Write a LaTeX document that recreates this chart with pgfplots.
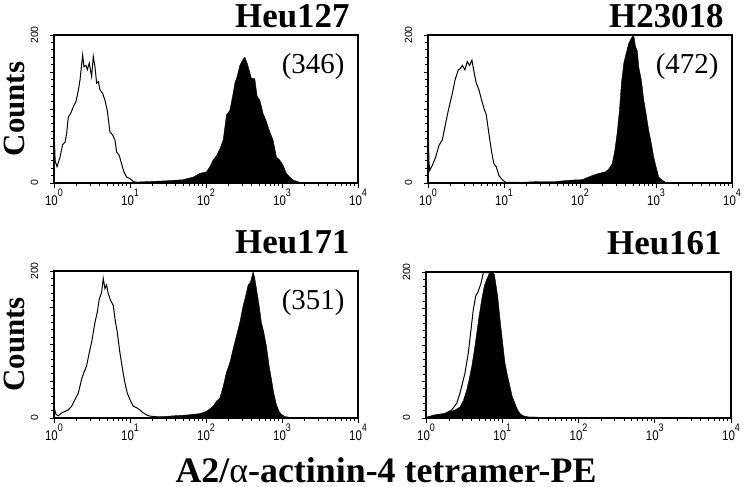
\documentclass[border=0pt]{standalone}
\usepackage{fontspec}
\setmainfont{Liberation Serif}
\newfontfamily\tickfont{Liberation Sans}
\usepackage{graphicx}
\usepackage{pgfplots}
\pgfplotsset{compat=1.18}
\usepackage{pgfplotstable}

% control (open) and tetramer (filled) histograms, x in decades (log10 of PE)
\pgfplotstableread{
l c
0.000 0
0.005 60
0.015 30
0.040 22
0.079 35
0.114 52
0.145 55
0.167 67
0.188 89
0.219 94
0.254 103
0.289 110
0.320 125
0.342 139
0.377 173
0.394 157
0.421 159
0.438 153
0.464 162
0.495 144
0.517 171
0.539 157
0.561 135
0.583 137
0.605 126
0.640 121
0.670 112
0.701 98
0.736 69
0.771 65
0.802 58
0.824 42
0.859 37
0.889 26
0.920 15
0.955 8
0.999 6
1.043 2
1.087 1
1.300 0.5
1.600 0.8
2.000 0.3
2.500 0
4.000 0
}\oA
\pgfplotstableread{
l c
0.900 0
1.043 1
1.262 2
1.481 3
1.700 4.5
1.831 8
1.919 13
2.007 15
2.050 22
2.094 31
2.138 37
2.182 46
2.226 58
2.269 92
2.313 98
2.357 121
2.379 135
2.410 144
2.445 159
2.480 166
2.511 170
2.541 162
2.567 153
2.598 141
2.642 141
2.673 117
2.708 112
2.751 94
2.795 83
2.839 69
2.883 58
2.927 35
2.970 31
3.014 24
3.058 13
3.102 8
3.146 4
3.233 1
3.321 0.5
3.500 0
4.000 0
}\fA
\pgfplotstableread{
l c
0.000 0
0.004 71
0.012 30
0.022 17
0.057 24
0.101 35
0.145 51
0.188 58
0.223 76
0.267 98
0.320 121
0.355 139
0.399 153
0.429 155
0.451 159
0.486 153
0.517 164
0.548 159
0.578 166
0.600 153
0.635 135
0.670 126
0.705 112
0.736 101
0.767 92
0.801 67
0.837 42
0.867 26
0.898 22
0.933 10
0.977 4.5
1.021 1
1.300 0.5
1.800 0.8
2.300 0.3
2.600 0
4.000 0
}\oB
\pgfplotstableread{
l c
0.900 0
1.240 1
1.459 2
1.678 2
1.897 4
2.028 4.5
2.160 10
2.248 13
2.335 15
2.379 19
2.423 26
2.458 44
2.488 67
2.519 98
2.545 135
2.576 162
2.607 175
2.642 189
2.677 196
2.707 200
2.729 185
2.755 178
2.773 157
2.808 139
2.839 112
2.869 94
2.904 71
2.940 53
2.970 35
3.001 22
3.036 8
3.080 4
3.124 1
3.211 0.5
3.400 0
4.000 0
}\fB
\pgfplotstableread{
l c
0.000 0
0.003 14
0.026 5
0.057 3
0.101 7
0.145 9
0.188 11
0.232 16
0.276 25
0.320 34
0.364 53
0.394 62
0.429 71
0.464 89
0.495 103
0.539 130
0.570 144
0.596 162
0.627 171
0.648 190
0.670 176
0.692 181
0.714 169
0.745 160
0.780 153
0.802 135
0.832 117
0.867 89
0.902 66
0.933 48
0.964 34
0.999 25
1.043 16
1.087 14
1.130 11
1.174 7
1.240 3
1.306 2
1.393 1.4
1.600 1
2.000 0.5
2.500 0
4.000 0
}\oC
\pgfplotstableread{
l c
1.200 0
1.393 1.4
1.568 3
1.744 4
1.919 6
2.007 9
2.094 16
2.138 23
2.182 27
2.226 43
2.269 62
2.313 75
2.357 94
2.401 112
2.445 130
2.489 153
2.524 167
2.554 181
2.585 185
2.620 199
2.642 190
2.664 176
2.699 153
2.729 130
2.760 117
2.795 98
2.830 71
2.861 53
2.891 34
2.927 18
2.962 9
2.992 5
3.036 2
3.102 1
3.233 0.5
3.400 0
4.000 0
}\fC
\pgfplotstableread{
l c
0.000 0
0.009 1
0.118 4
0.249 6
0.337 11
0.402 20
0.446 34
0.477 47
0.510 61
0.555 89
0.590 121
0.621 149
0.652 167
0.687 174
0.722 185
0.752 199
0.796 199
0.827 200
0.852 171
0.883 139
0.914 103
0.949 66
0.992 38
1.036 20
1.080 11
1.123 6
1.211 2
1.298 1
1.600 0.5
2.200 0.3
4.000 0
}\oD
\pgfplotstableread{
l c
0.000 0
0.009 0.5
0.118 4
0.249 6
0.380 11
0.446 15
0.490 24
0.533 38
0.564 52
0.599 70
0.634 93
0.665 116
0.695 139
0.730 162
0.765 181
0.796 190
0.827 197
0.861 200
0.896 197
0.914 185
0.940 167
0.971 135
1.001 107
1.036 75
1.071 57
1.102 43
1.132 29
1.167 20
1.202 11
1.233 6
1.276 3
1.342 1.4
1.473 1
1.692 0.5
1.910 0.5
2.500 0.3
4.000 0
}\fD

\newcommand{\dec}[1]{\scalebox{0.82}[1]{10\raisebox{9.5bp}{\fontsize{11}{11}\selectfont #1}}}

\pgfplotsset{panel/.style={
  scale only axis, width=304bp, height=148bp,
  xmin=0, xmax=4, ymin=0, ymax=200,
  axis line style={line width=1.2pt},
  tick align=outside, tick pos=left,
  xtick={0,1,2,3,4},
  xticklabels={\dec{0},\dec{1},\dec{2},\dec{3},\dec{4}},
  minor xtick={0.301,0.477,0.602,0.699,0.778,0.845,0.903,0.954,
    1.301,1.477,1.602,1.699,1.778,1.845,1.903,1.954,
    2.301,2.477,2.602,2.699,2.778,2.845,2.903,2.954,
    3.301,3.477,3.602,3.699,3.778,3.845,3.903,3.954},
  ytick={0,50,100,150,200}, yticklabels={0,,,,200},
  minor y tick num=4,
  major tick length=4.5bp, minor tick length=3bp,
  every tick/.style={black, line width=0.9pt},
  xticklabel style={font=\tickfont\fontsize{14}{14}\selectfont, inner sep=1bp},
  yticklabel style={font=\tickfont\fontsize{10.5}{10.5}\selectfont, rotate=90, anchor=south, inner sep=0pt},
  yticklabel shift=11bp,
  title style={font=\fontsize{35}{35}\selectfont\bfseries, anchor=base east,
    at={(axis description cs:1,1)}},
  ylabel style={font=\fontsize{31}{31}\selectfont\bfseries, anchor=base,
    at={(axis description cs:-0.0954,0.5)}},
  table/x=l, table/y=c,
}}

\begin{document}
\begin{tikzpicture}
\path[use as bounding box] (0,0) rectangle (745bp,-487bp);

\begin{axis}[panel, at={(54bp,-183bp)}, anchor=south west,
  title={Heu127}, title style={yshift=1.5bp, xshift=-5bp}, ylabel={Counts}]
\addplot[draw=black, fill=black, line width=0.4pt] table {\fA} \closedcycle;
\addplot[black, line width=1pt] table {\oA};
\node[anchor=base east, font=\fontsize{29}{29}\selectfont] at (rel axis cs:0.967,0.743) {(346)};
\end{axis}

\begin{axis}[panel, at={(428bp,-183bp)}, anchor=south west,
  title={H23018}, title style={yshift=1.5bp, xshift=-5bp}]
\addplot[draw=black, fill=black, line width=0.4pt] table {\fB} \closedcycle;
\addplot[black, line width=1pt] table {\oB};
\node[anchor=base east, font=\fontsize{29}{29}\selectfont] at (rel axis cs:0.967,0.743) {(472)};
\end{axis}

\begin{axis}[panel, height=147bp, at={(54bp,-418bp)}, anchor=south west,
  title={Heu171}, title style={yshift=12bp, xshift=-5bp}, ylabel={Counts}]
\addplot[draw=black, fill=black, line width=0.4pt] table {\fC} \closedcycle;
\addplot[black, line width=1pt] table {\oC};
\node[anchor=base east, font=\fontsize{29}{29}\selectfont] at (rel axis cs:0.967,0.736) {(351)};
\end{axis}

\begin{axis}[panel, height=146bp, width=305bp, at={(426bp,-418bp)}, anchor=south west,
  title={Heu161}, title style={yshift=12bp, xshift=-6bp}]
\addplot[draw=black, fill=black, line width=0.4pt] table {\fD} \closedcycle;
\addplot[black, line width=1pt] table {\oD};
\end{axis}

\node[anchor=base, inner sep=0pt, font=\fontsize{36}{36}\selectfont\bfseries] at (386bp,-482bp)
  {A2/{\mdseries α}-actinin-4 tetramer-PE};
\end{tikzpicture}
\end{document}
